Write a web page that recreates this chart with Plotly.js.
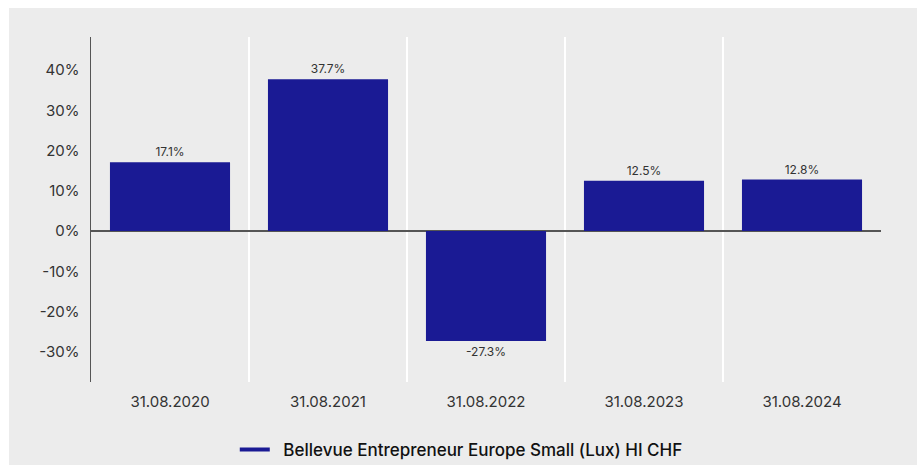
<!DOCTYPE html>
<html>
<head>
<meta charset="utf-8">
<script src="https://cdn.plot.ly/plotly-3.0.1.min.js"></script>
<style>
  html, body { margin: 0; padding: 0; background: #ffffff; }
  #chart { position: absolute; left: 9px; top: 8px; width: 908px; height: 457px; }
</style>
</head>
<body>
<div id="chart"></div>
<script>
const categories = ["31.08.2020", "31.08.2021", "31.08.2022", "31.08.2023", "31.08.2024"];
const returns = [17.1, 37.7, -27.3, 12.5, 12.8];
const yTickValues = [-30, -20, -10, 0, 10, 20, 30, 40];
const yTickLabels = ["-30%", "-20%", "-10%", "0%", "10%", "20%", "30%", "40%"];
const seriesName = "Bellevue Entrepreneur Europe Small (Lux) HI CHF";
const barColor = "#1a1a94";
const labels = returns.map(v => v.toFixed(1) + "%");

const traces = [
  {
    type: "bar",
    x: categories,
    y: returns,
    marker: { color: barColor },
    text: labels,
    textposition: "outside",
    textfont: { family: "Inter, sans-serif", size: 12, color: "#333333" },
    cliponaxis: false,
    showlegend: false,
    hoverinfo: "skip"
  },
  {
    type: "scatter",
    mode: "lines",
    x: [null],
    y: [null],
    name: "\u2002" + seriesName,
    line: { color: barColor, width: 4 },
    showlegend: true
  }
];

const layout = {
  width: 908,
  height: 457,
  margin: { l: 82, r: 36, t: 29, b: 83, autoexpand: false },
  paper_bgcolor: "#ececec",
  plot_bgcolor: "#ececec",
  font: { family: "Inter, sans-serif", color: "#333333", size: 15 },
  bargap: 0.24,
  xaxis: {
    type: "category",
    tickson: "boundaries",
    showgrid: true,
    gridcolor: "#ffffff",
    gridwidth: 1.5,
    ticks: "",
    showline: false,
    zeroline: false,
    automargin: false,
    tickfont: { size: 15, color: "#333333" },
    ticklabelstandoff: 9
  },
  yaxis: {
    range: [-37.5, 48.2],
    tickvals: yTickValues,
    ticktext: yTickLabels,
    showgrid: false,
    zeroline: true,
    zerolinecolor: "#555555",
    zerolinewidth: 1.5,
    showline: true,
    linecolor: "#555555",
    linewidth: 1.5,
    ticks: "",
    automargin: false,
    ticklabelstandoff: 7,
    tickfont: { size: 15, color: "#333333" }
  },
  showlegend: true,
  legend: {
    orientation: "h",
    x: 0.182,
    xanchor: "left",
    y: -0.197,
    yanchor: "middle",
    bgcolor: "rgba(0,0,0,0)",
    font: { family: "Inter, sans-serif", size: 17, color: "#111111", weight: 500 }
  }
};

Plotly.newPlot("chart", traces, layout, { displayModeBar: false, staticPlot: true });
</script>
</body>
</html>
